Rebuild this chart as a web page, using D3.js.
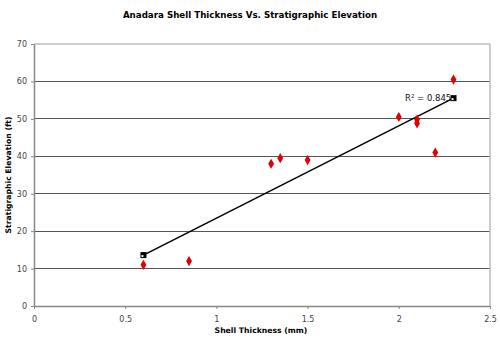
<!DOCTYPE html>
<html><head><meta charset="utf-8">
<script src="https://cdn.jsdelivr.net/npm/d3@7"></script>
<style>body{margin:0;background:#fff}svg{display:block}</style>
</head><body>
<svg id="c" width="500" height="338"></svg>
<script>
const thickness = [0.6, 0.85, 1.3, 1.35, 1.5, 2.0, 2.1, 2.1, 2.2, 2.3];
const elevation = [11, 12, 38, 39.5, 39, 50.5, 49.8, 48.8, 41, 60.5];
const xTicks = [0, 0.5, 1, 1.5, 2, 2.5];
const yTicks = [0, 10, 20, 30, 40, 50, 60, 70];
const r2Label = "0.845";

const svg = d3.select("#c");
const font = "DejaVu Sans, Verdana, sans-serif";
const L = 34, R = 490, T = 44, B = 306;
const x = d3.scaleLinear().domain([0, 2.5]).range([L, R]);
const y = d3.scaleLinear().domain([0, 70]).range([B, T]);

// gridlines
svg.append("g").selectAll("line").data(yTicks.filter(d => d > 0 && d < 70)).join("line")
  .attr("x1", L).attr("x2", R).attr("y1", d => y(d)).attr("y2", d => y(d))
  .attr("stroke", "#555").attr("stroke-width", 1).attr("shape-rendering", "crispEdges");
// border top/right
svg.append("line").attr("x1", L).attr("x2", R).attr("y1", T).attr("y2", T)
  .attr("stroke", "#bbb").attr("stroke-width", 1.5);
svg.append("line").attr("x1", R).attr("x2", R).attr("y1", T).attr("y2", B)
  .attr("stroke", "#bbb").attr("stroke-width", 1.5);

// axes
const xa = svg.append("g").attr("transform", `translate(0,${B})`)
  .call(d3.axisBottom(x).tickValues(xTicks).tickSize(3).tickSizeOuter(0).tickFormat(d3.format("")));
const ya = svg.append("g").attr("transform", `translate(${L},0)`)
  .call(d3.axisLeft(y).tickValues(yTicks).tickSize(3).tickSizeOuter(0));
[xa, ya].forEach(a => {
  a.select(".domain").attr("stroke", "#888").attr("stroke-width", 1.5);
  a.selectAll(".tick line").attr("stroke", "#888");
  a.selectAll("text").attr("font-family", font).attr("font-size", 8).attr("fill", "#444");
});
xa.selectAll("text").attr("dy", "1.2em");
ya.selectAll("text").attr("dx", "-1px");

// regression
const n = thickness.length;
const mx = d3.mean(thickness), my = d3.mean(elevation);
let sxy = 0, sxx = 0;
for (let i = 0; i < n; i++) { sxy += (thickness[i]-mx)*(elevation[i]-my); sxx += (thickness[i]-mx)**2; }
const slope = sxy / sxx, icpt = my - slope * mx;
const x0 = d3.min(thickness), x1 = d3.max(thickness);
svg.append("line").attr("x1", x(x0)).attr("y1", y(icpt + slope*x0))
  .attr("x2", x(x1)).attr("y2", y(icpt + slope*x1))
  .attr("stroke", "#000").attr("stroke-width", 1.5);
[x0, x1].forEach(v => {
  const cx = x(v), cy = y(icpt + slope*v);
  svg.append("rect").attr("x", cx-3).attr("y", cy-3).attr("width", 6).attr("height", 6).attr("fill", "#000");
  svg.append("rect").attr("x", cx-2).attr("y", cy+0).attr("width", 2).attr("height", 2).attr("fill", "#fff");
});

// points
svg.append("g").selectAll("path").data(thickness.map((t, i) => [t, elevation[i]])).join("path")
  .attr("d", d3.symbol(d3.symbolDiamond, 30))
  .attr("transform", d => `translate(${x(d[0])},${y(d[1])})`)
  .attr("fill", "#e00000");

// R2 label
const rt = svg.append("text").attr("x", 405).attr("y", 101).attr("font-family", font)
  .attr("font-size", 8.5).attr("fill", "#111");
rt.append("tspan").text("R");
rt.append("tspan").attr("font-size", 5.5).attr("dy", -3.5).text("2");
rt.append("tspan").attr("dy", 3.5).text(" = " + r2Label);

// titles
svg.append("text").attr("x", 250).attr("y", 18).attr("text-anchor", "middle")
  .attr("font-family", font).attr("font-weight", "bold").attr("font-size", 8.7).attr("fill", "#000")
  .text("Anadara Shell Thickness Vs. Stratigraphic Elevation");
svg.append("text").attr("x", 261).attr("y", 333).attr("text-anchor", "middle")
  .attr("font-family", font).attr("font-weight", "bold").attr("font-size", 7.7).attr("fill", "#000")
  .text("Shell Thickness (mm)");
svg.append("text").attr("transform", "translate(11,175) rotate(-90)").attr("text-anchor", "middle")
  .attr("font-family", font).attr("font-weight", "bold").attr("font-size", 7.7).attr("fill", "#000")
  .text("Stratigraphic Elevation (ft)");
</script>
</body></html>
